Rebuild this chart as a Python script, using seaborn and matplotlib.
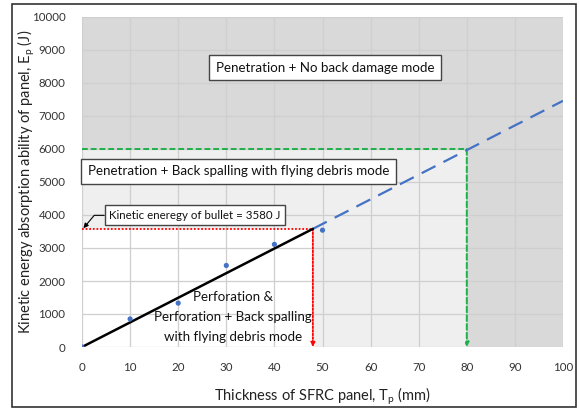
import matplotlib
matplotlib.use("Agg")
import matplotlib.pyplot as plt
from matplotlib.patches import Rectangle
import seaborn as sns
import pandas as pd

# ---- data ----
thickness = [0, 10, 20, 30, 40, 50]
energy = [0, 850, 1330, 2470, 3110, 3540]
fit_x = [0, 48]
fit_y = [0, 3580]
ext_x = [48, 100]
ext_y = [3580, 7460]
bullet_energy = 3580
bullet_thickness = 48
no_damage_energy = 6000
no_damage_thickness = 80
x_ticks = list(range(0, 101, 10))
y_ticks = list(range(0, 10001, 1000))

sns.set_style("white")
plt.rcParams['font.family'] = ['Lato', 'DejaVu Sans']

fig = plt.figure(figsize=(5.79, 4.09), dpi=100)
ax = fig.add_axes([82/579, 1-347/409, 481/579, 330/409])
ax.set_facecolor('#d9d9d9')

# background regions
ax.add_patch(Rectangle((0, 0), no_damage_thickness, no_damage_energy,
                       facecolor='#efefef', edgecolor='none', zorder=0))
ax.add_patch(Rectangle((0, 0), bullet_thickness, bullet_energy,
                       facecolor='white', edgecolor='none', zorder=0.5))

ax.set_xlim(0, 100)
ax.set_ylim(0, 10000)
ax.set_xticks(x_ticks)
ax.set_yticks(y_ticks)
ax.grid(True, color='#cfcfcf', linewidth=0.9, zorder=1)
ax.set_axisbelow(True)
for s in ax.spines.values():
    s.set_visible(False)
ax.tick_params(axis='both', length=4, color='#cfcfcf', labelsize=8.3,
               labelcolor='#333333', pad=7)
ax.tick_params(axis='y', length=0, pad=12)

# reference lines
ax.plot([0, bullet_thickness], [bullet_energy, bullet_energy], color='red',
        linestyle=(0, (1, 1)), lw=1.3, zorder=3)
ax.annotate('', xy=(bullet_thickness, 0), xytext=(bullet_thickness, bullet_energy),
            arrowprops=dict(arrowstyle='-|>', color='red', lw=1.3,
                            linestyle=(0, (1, 1)), mutation_scale=6, shrinkA=0, shrinkB=0),
            zorder=3)
ax.plot([0, no_damage_thickness], [no_damage_energy, no_damage_energy], color='#1fb04a',
        linestyle=(0, (3, 1.5)), lw=1.4, zorder=3)
ax.annotate('', xy=(no_damage_thickness, 0), xytext=(no_damage_thickness, no_damage_energy),
            arrowprops=dict(arrowstyle='-|>', color='#1fb04a', lw=1.4,
                            linestyle=(0, (3, 1.5)), mutation_scale=6, shrinkA=0, shrinkB=0),
            zorder=3)

# fitted lines and data
sns.lineplot(x=ext_x, y=ext_y, ax=ax, color='#4472c4', lw=1.6,
             linestyle=(0, (7, 4)), zorder=4)
sns.lineplot(x=fit_x, y=fit_y, ax=ax, color='black', lw=1.8, zorder=5)
sns.scatterplot(x=thickness, y=energy, ax=ax, color='#4472c4', s=14,
                edgecolor='none', zorder=6)

box = dict(boxstyle='square,pad=0.5', facecolor='white', edgecolor='#444444', lw=1)
ax.text(50.5, 8460, 'Penetration + No back damage mode', ha='center', va='center',
        fontsize=9.6, color='#111111', bbox=box, zorder=7)
ax.text(32.6, 5320, 'Penetration + Back spalling with flying debris mode', ha='center',
        va='center', fontsize=9.6, color='#111111', bbox=box, zorder=7)
ax.annotate('Kinetic eneregy of bullet = 3580 J', xy=(0.3, bullet_energy + 20),
            xytext=(23.5, 3990), ha='center', va='center', fontsize=8.3, color='#111111',
            bbox=dict(boxstyle='square,pad=0.4', facecolor='white', edgecolor='#444444', lw=1),
            arrowprops=dict(arrowstyle='-|>', color='black', lw=0.8, mutation_scale=7,
                            relpos=(0, 0.5), shrinkA=0, shrinkB=0,
                            connectionstyle='angle,angleA=180,angleB=50,rad=0'),
            zorder=7)
ax.text(31.4, 910, 'Perforation &\nPerforation + Back spalling\nwith flying debris mode',
        ha='center', va='center', fontsize=9.6, color='#111111', linespacing=1.8, zorder=7)

ax.set_xlabel('Thickness of SFRC panel, T$_\\mathregular{p}$ (mm)', fontsize=10.5,
              color='#222222')
ax.set_ylabel('Kinetic energy absorption ability of panel, E$_\\mathregular{p}$ (J)',
              fontsize=10.5, color='#222222')
ax.xaxis.set_label_coords(0.5, -(385 - 347) / 330)
ax.yaxis.set_label_coords(-(82 - 37) / 481, 0.5)

fig.add_artist(Rectangle((12/579, 1-407/409), 564/579, 403/409, transform=fig.transFigure,
                         facecolor='none', edgecolor='#333333', lw=1.2))

fig.savefig('out.png', dpi=100)
